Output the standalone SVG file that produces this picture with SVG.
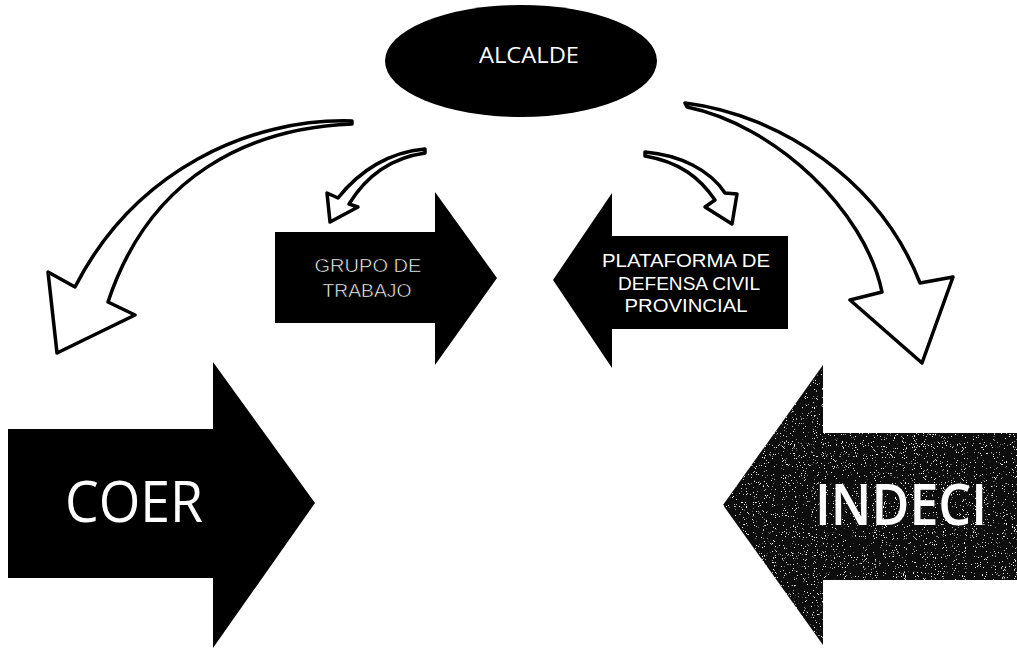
<svg xmlns="http://www.w3.org/2000/svg" width="1017" height="648" viewBox="0 0 1017 648">
<style>
.blk{fill:#000}
.curve{fill:#fff;stroke:#000;stroke-width:3.5;stroke-linejoin:round}
.t{fill:#fff;font-family:"Open Sans","Liberation Sans",sans-serif;text-anchor:middle}
.s{fill:#fff;font-family:"Liberation Sans",Arial,sans-serif;text-anchor:middle}
.thin{fill:#fff;font-family:"Liberation Sans",Arial,sans-serif;text-anchor:middle;stroke:#000;stroke-width:0.6}
</style>
<defs>
<filter id="grain" x="0" y="0" width="100%" height="100%">
<feTurbulence type="fractalNoise" baseFrequency="0.9" numOctaves="2" seed="7" result="n"/>
<feColorMatrix in="n" type="matrix" values="0 0 0 0 1  0 0 0 0 1  0 0 0 0 1  14 0 0 0 -9.4" result="s"/>
<feComposite in="s" in2="SourceGraphic" operator="in" result="sp"/>
<feMerge><feMergeNode in="SourceGraphic"/><feMergeNode in="sp"/></feMerge>
</filter>
</defs>
<rect width="1017" height="648" fill="#fff"/>

<g id="connectors">
<path class="curve" d="M352,121 C250,118 135,170 75,287 L48,272 L57,353 L135,315 L108,302 C150,175 250,128 352,124 Z"/>
<path class="curve" d="M685,103 C780,115 880,180 920,283 L953,277 L922,363 L850,300 L882,292 C865,210 775,125 687,107 Z"/>
<path class="curve" d="M425,149 C390,152 360,170 338,198 L327,193 L330,222 L358,207 L349,204 C365,178 390,158 425,153 Z"/>
<path class="curve" d="M645,152 C680,155 710,170 725,193 L737,194 L732,224 L705,207 L715,200 C700,178 680,162 645,156 Z"/>
</g>

<g id="alcalde">
<ellipse class="blk" cx="521" cy="61" rx="136" ry="56"/>
<text class="t" x="529" y="63" font-size="22" textLength="100" lengthAdjust="spacingAndGlyphs">ALCALDE</text>
</g>

<g id="grupo">
<polygon class="blk" points="275,232 435,232 435,192 497,278 435,365 435,323 275,323"/>
<text class="thin" x="368" y="272" font-size="19" textLength="107" lengthAdjust="spacingAndGlyphs">GRUPO DE</text>
<text class="thin" x="367" y="297" font-size="19" textLength="89" lengthAdjust="spacingAndGlyphs">TRABAJO</text>
</g>

<g id="plataforma">
<polygon class="blk" points="788,236 612,236 612,193 553,280 612,368 612,329 788,329"/>
<text class="s" x="686" y="267" font-size="18.5" textLength="168" lengthAdjust="spacingAndGlyphs">PLATAFORMA DE</text>
<text class="s" x="689" y="290" font-size="18.5" textLength="142" lengthAdjust="spacingAndGlyphs">DEFENSA CIVIL</text>
<text class="s" x="686" y="312" font-size="18.5" textLength="123" lengthAdjust="spacingAndGlyphs">PROVINCIAL</text>
</g>

<g id="coer">
<polygon class="blk" points="8,429 213,429 213,362 315,503 213,648 213,578 8,578"/>
<text class="t" x="134" y="522" font-size="56" textLength="138" lengthAdjust="spacingAndGlyphs">COER</text>
</g>

<g id="indeci">
<polygon fill="#0a0a0a" filter="url(#grain)" points="1017,433 823,433 823,365 723,505 823,645 823,580 1017,580"/>
<text class="t" x="901" y="525" font-size="58" font-weight="600" textLength="172" lengthAdjust="spacingAndGlyphs">INDECI</text>
</g>
</svg>
